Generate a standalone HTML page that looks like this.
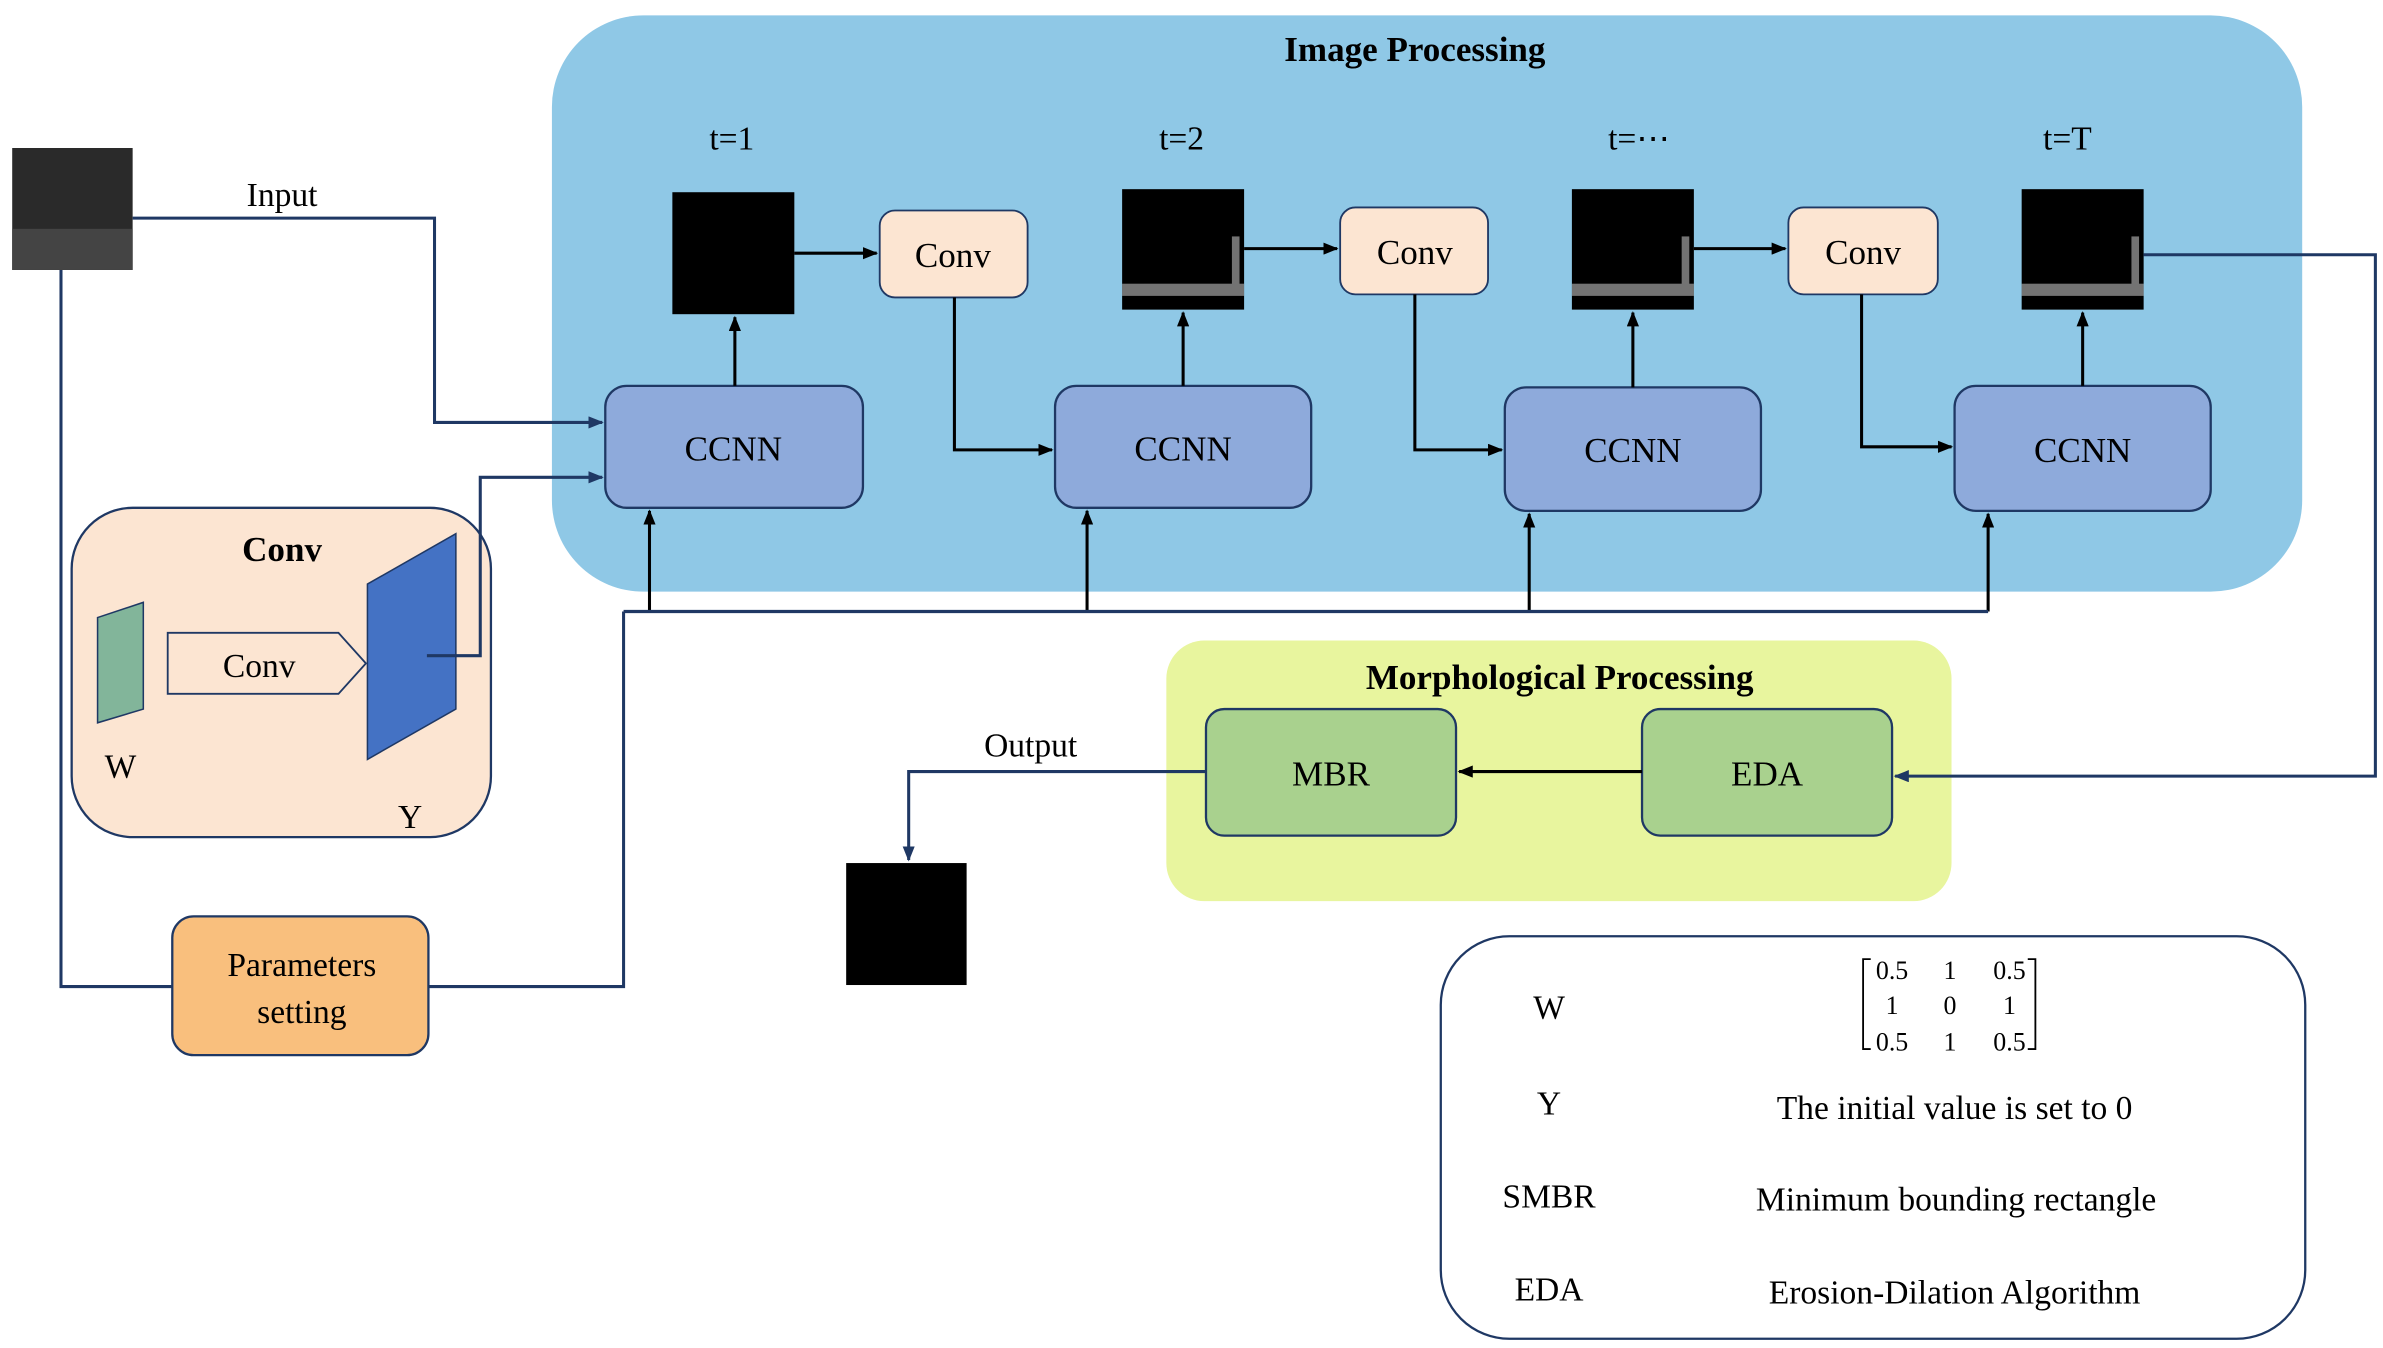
<!DOCTYPE html>
<html><head><meta charset="utf-8"><style>html,body{margin:0;padding:0;background:#fff}svg{display:block}svg text{font-family:"Liberation Serif","Times New Roman",serif}</style></head>
<body>
<svg width="2383" height="1348" viewBox="0 0 1563 884" xmlns="http://www.w3.org/2000/svg" style='font-family:"Liberation Serif",serif'>
<defs>
<marker id="a" markerWidth="10" markerHeight="8" refX="9" refY="4" orient="auto" markerUnits="userSpaceOnUse"><path d="M0,0 L10,4 L0,8 z" fill="#1f3864"/></marker>
<marker id="b" markerWidth="10" markerHeight="8" refX="9" refY="4" orient="auto" markerUnits="userSpaceOnUse"><path d="M0,0 L10,4 L0,8 z" fill="#000"/></marker>
</defs>
<rect x="362" y="10" width="1148" height="378" rx="60" fill="#8fc8e6"/>
<rect x="47" y="333" width="275" height="216" rx="40" fill="#fce5d2" stroke="#1f3864" stroke-width="1.5"/>
<rect x="765" y="420" width="515" height="171" rx="25" fill="#e8f59e"/>
<text x="928" y="40" font-size="23" font-weight="bold" text-anchor="middle">Image Processing</text>
<g font-size="22" text-anchor="middle">
<text x="480" y="98">t=1</text><text x="775" y="98">t=2</text><text x="1075" y="98">t=⋯</text><text x="1356" y="98">t=T</text></g>
<rect x="441" y="126" width="80" height="80" fill="#000"/>
<rect x="736" y="124" width="80" height="79" fill="#000"/>
<rect x="1031" y="124" width="80" height="79" fill="#000"/>
<rect x="1326" y="124" width="80" height="79" fill="#000"/>
<g fill="#fff" opacity="0.45"><rect x="736" y="186" width="80" height="8"/><rect x="1031" y="186" width="80" height="8"/><rect x="1326" y="186" width="80" height="8"/><rect x="808" y="155" width="5" height="35"/><rect x="1103" y="155" width="5" height="35"/><rect x="1398" y="155" width="5" height="35"/></g>
<g fill="#fce5d2" stroke="#1f3864" stroke-width="1.2">
<rect x="577" y="138" width="97" height="57" rx="10"/><rect x="879" y="136" width="97" height="57" rx="10"/><rect x="1173" y="136" width="98" height="57" rx="10"/></g>
<g font-size="23" text-anchor="middle"><text x="625" y="175">Conv</text><text x="928" y="173">Conv</text><text x="1222" y="173">Conv</text></g>
<g fill="#8eaadb" stroke="#1f3864" stroke-width="1.5">
<rect x="397" y="253" width="169" height="80" rx="14"/><rect x="692" y="253" width="168" height="80" rx="14"/><rect x="987" y="254" width="168" height="81" rx="14"/><rect x="1282" y="253" width="168" height="82" rx="14"/></g>
<g font-size="23" text-anchor="middle"><text x="481" y="302">CCNN</text><text x="776" y="302">CCNN</text><text x="1071" y="303">CCNN</text><text x="1366" y="303">CCNN</text></g>
<g stroke="#000" stroke-width="2" fill="none" marker-end="url(#b)">
<path d="M521,166 H575"/><path d="M816,163 H877"/><path d="M1111,163 H1171"/>
<path d="M482,253 V208"/><path d="M776,253 V205"/><path d="M1071,254 V205"/><path d="M1366,253 V205"/>
<path d="M626,195 V295 H690"/><path d="M928,193 V295 H985"/><path d="M1221,193 V293 H1280"/>
<path d="M426,401 V335"/><path d="M713,401 V335"/><path d="M1003,401 V337"/><path d="M1304,401 V337"/></g>
<path d="M409,401 H1304" stroke="#1f3864" stroke-width="2.2" fill="none"/>
<path d="M409,401 V647 H281" stroke="#1f3864" stroke-width="2" fill="none"/>
<rect x="8" y="97" width="79" height="80" fill="#2a2a2a"/>
<rect x="8" y="150" width="79" height="27" fill="#444"/>
<text x="185" y="135" font-size="22" text-anchor="middle">Input</text>
<rect x="113" y="601" width="168" height="91" rx="14" fill="#f9bf7d" stroke="#1f3864" stroke-width="1.5"/>
<text x="198" y="640" font-size="22" text-anchor="middle">Parameters</text>
<text x="198" y="671" font-size="22" text-anchor="middle">setting</text>
<text x="185" y="368" font-size="23" font-weight="bold" text-anchor="middle">Conv</text>
<polygon points="64,405 94,395 94,465 64,474" fill="#82b59a" stroke="#1f3864" stroke-width="1"/>
<polygon points="110,415 222,415 240,435 222,455 110,455" fill="#fce5d2" stroke="#1f3864" stroke-width="1.2"/>
<text x="170" y="444" font-size="22" text-anchor="middle">Conv</text>
<polygon points="241,383 299,350 299,465 241,498" fill="#4472c4" stroke="#1f3864" stroke-width="1"/>
<text x="79" y="510" font-size="22" text-anchor="middle">W</text>
<text x="269" y="543" font-size="22" text-anchor="middle">Y</text>
<g stroke="#1f3864" stroke-width="2" fill="none">
<path d="M87,143 H285 V277 H395" marker-end="url(#a)"/>
<path d="M40,177 V647 H113"/>
<path d="M280,430 H315 V313 H395" marker-end="url(#a)"/>
<path d="M1406,167 H1558 V509 H1243" marker-end="url(#a)"/>
<path d="M791,506 H596 V564" marker-end="url(#a)"/>
</g>
<text x="1023" y="452" font-size="23" font-weight="bold" text-anchor="middle">Morphological Processing</text>
<rect x="791" y="465" width="164" height="83" rx="12" fill="#a9d18e" stroke="#1f3864" stroke-width="1.5"/>
<rect x="1077" y="465" width="164" height="83" rx="12" fill="#a9d18e" stroke="#1f3864" stroke-width="1.5"/>
<text x="873" y="515" font-size="23" text-anchor="middle">MBR</text>
<text x="1159" y="515" font-size="23" text-anchor="middle">EDA</text>
<path d="M1077,506 H957" stroke="#000" stroke-width="2" marker-end="url(#b)"/>
<text x="676" y="496" font-size="22" text-anchor="middle">Output</text>
<rect x="555" y="566" width="79" height="80" fill="#000"/>
<rect x="945" y="614" width="567" height="264" rx="45" fill="#fff" stroke="#1f3864" stroke-width="1.5"/>
<g font-size="22" text-anchor="middle">
<text x="1016" y="668">W</text><text x="1016" y="731">Y</text><text x="1016" y="792">SMBR</text><text x="1016" y="853">EDA</text>
<text x="1282" y="734">The initial value is set to 0</text>
<text x="1283" y="794">Minimum bounding rectangle</text>
<text x="1282" y="855">Erosion-Dilation Algorithm</text>
</g>
<g font-size="17" text-anchor="middle">
<text x="1241" y="642">0.5</text><text x="1279" y="642">1</text><text x="1318" y="642">0.5</text>
<text x="1241" y="665">1</text><text x="1279" y="665">0</text><text x="1318" y="665">1</text>
<text x="1241" y="689">0.5</text><text x="1279" y="689">1</text><text x="1318" y="689">0.5</text>
</g>
<path d="M1227,629 H1222 V688 H1227 M1330,629 H1335 V688 H1330" stroke="#000" stroke-width="1.2" fill="none"/>
</svg>
</body></html>
